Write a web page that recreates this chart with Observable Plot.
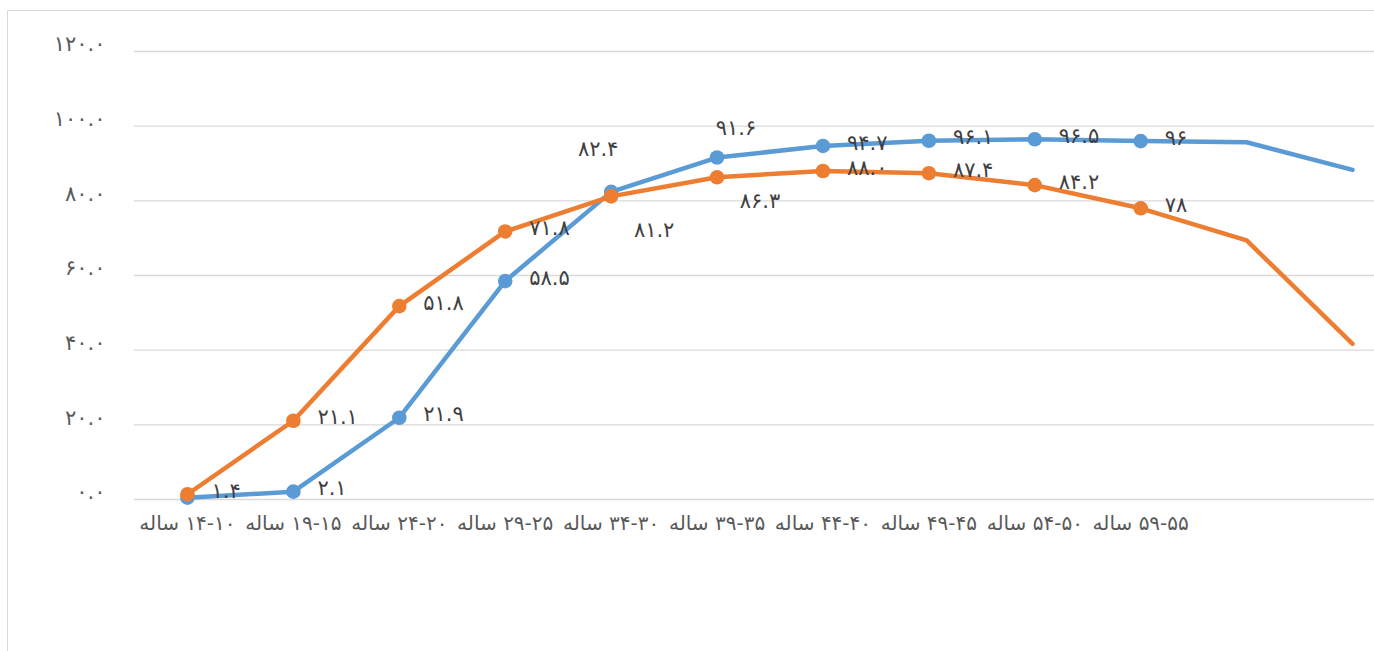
<!DOCTYPE html>
<html>
<head>
<meta charset="utf-8">
<script src="https://cdn.jsdelivr.net/npm/d3@7"></script>
<script src="https://cdn.jsdelivr.net/npm/@observablehq/plot@0.6"></script>
<style>
  html, body { margin: 0; padding: 0; background: #fff; overflow: hidden; }
  #wrap { position: relative; width: 1374px; height: 651px; }
  #frame { position: absolute; left: 7px; top: 10px; width: 1400px; height: 700px;
           border-left: 1.3px solid #d9d9d9; border-top: 1.3px solid #d9d9d9; pointer-events: none; }
  svg { font-family: "DejaVu Sans", sans-serif; }
</style>
</head>
<body>
<div id="wrap"><div id="frame"></div><div id="chart"></div></div>
<script>
// ---- data ----
const ageLabels = ["14-10", "19-15", "24-20", "29-25", "34-30", "39-35", "44-40", "49-45", "54-50", "59-55"];
const ageWord = "ساله";
const blueValues = [0.5, 2.1, 21.9, 58.5, 82.4, 91.6, 94.7, 96.1, 96.5, 96.0, 95.7, 88.3];
const orangeValues = [1.4, 21.1, 51.8, 71.8, 81.2, 86.3, 88.0, 87.4, 84.2, 78.0, 69.4, 41.7];
const blueLabels = ["", "2.1", "21.9", "58.5", "82.4", "91.6", "94.7", "96.1", "96.5", "96"];
const orangeLabels = ["1.4", "21.1", "51.8", "71.8", "81.2", "86.3", "88.0", "87.4", "84.2", "78"];
const yTicks = [0, 20, 40, 60, 80, 100, 120];

// ---- helpers ----
const faDigits = "۰۱۲۳۴۵۶۷۸۹";
const fa = s => String(s).replace(/[0-9]/g, d => faDigits[+d]);
const BLUE = "#5B9BD5", ORANGE = "#ED7D31";

const blue = blueValues.map((v, i) => ({i, v, label: blueLabels[i] ?? "", s: "b"}));
const orange = orangeValues.map((v, i) => ({i, v, label: orangeLabels[i] ?? "", s: "o"}));

// manual label nudges (as in the reference, some labels were dragged)
const moved = {
  "b4": [-13, -43], "b5": [19, -29],
  "o4": [43, 34], "o5": [43, 24]
};
const labelled = [...blue, ...orange].filter(d => d.label !== "");
const defaultLabels = labelled.filter(d => !moved[d.s + d.i]);
const movedLabels = labelled.filter(d => moved[d.s + d.i]);

const xDomain = d3.range(blueValues.length);

const chart = Plot.plot({
  width: 1374,
  height: 651,
  marginLeft: 134,
  marginRight: 0,
  marginTop: 51,
  marginBottom: 152,
  style: {background: "transparent", overflow: "visible"},
  x: {type: "point", domain: xDomain, range: [134, 1405], padding: 0.5, round: false, label: null},
  y: {domain: [0, 120], label: null},
  marks: [
    Plot.ruleY(yTicks, {stroke: "#d9d9d9", strokeWidth: 1.3}),
    Plot.axisY({ticks: yTicks, tickSize: 0, tickPadding: 29, fontSize: 21, fill: "#595959", label: null,
      tickFormat: d => fa(d3.format(".1f")(d)), dy: -7}),
    Plot.axisX({ticks: d3.range(ageLabels.length), tickSize: 0, tickPadding: 16, fontSize: 20, fill: "#595959", label: null,
      tickFormat: i => ageWord + " \u200E" + fa(ageLabels[i])}),
    Plot.line(blue, {x: "i", y: "v", stroke: BLUE, strokeWidth: 4.5, strokeLinejoin: "round", strokeLinecap: "round"}),
    Plot.dot(blue.slice(0, 10), {x: "i", y: "v", r: 7.3, fill: BLUE}),
    Plot.line(orange, {x: "i", y: "v", stroke: ORANGE, strokeWidth: 4.5, strokeLinejoin: "round", strokeLinecap: "round"}),
    Plot.dot(orange.slice(0, 10), {x: "i", y: "v", r: 7.3, fill: ORANGE}),
    Plot.text(defaultLabels, {x: "i", y: "v", text: d => fa(d.label), textAnchor: "start", dx: 24, dy: -3,
      fontSize: 21, fill: "#404040"}),
    ...movedLabels.map(d => Plot.text([d], {x: "i", y: "v", text: e => fa(e.label), textAnchor: "middle",
      dx: moved[d.s + d.i][0], dy: moved[d.s + d.i][1], fontSize: 21, fill: "#404040"}))
  ]
});
document.getElementById("chart").appendChild(chart);
</script>
</body>
</html>
